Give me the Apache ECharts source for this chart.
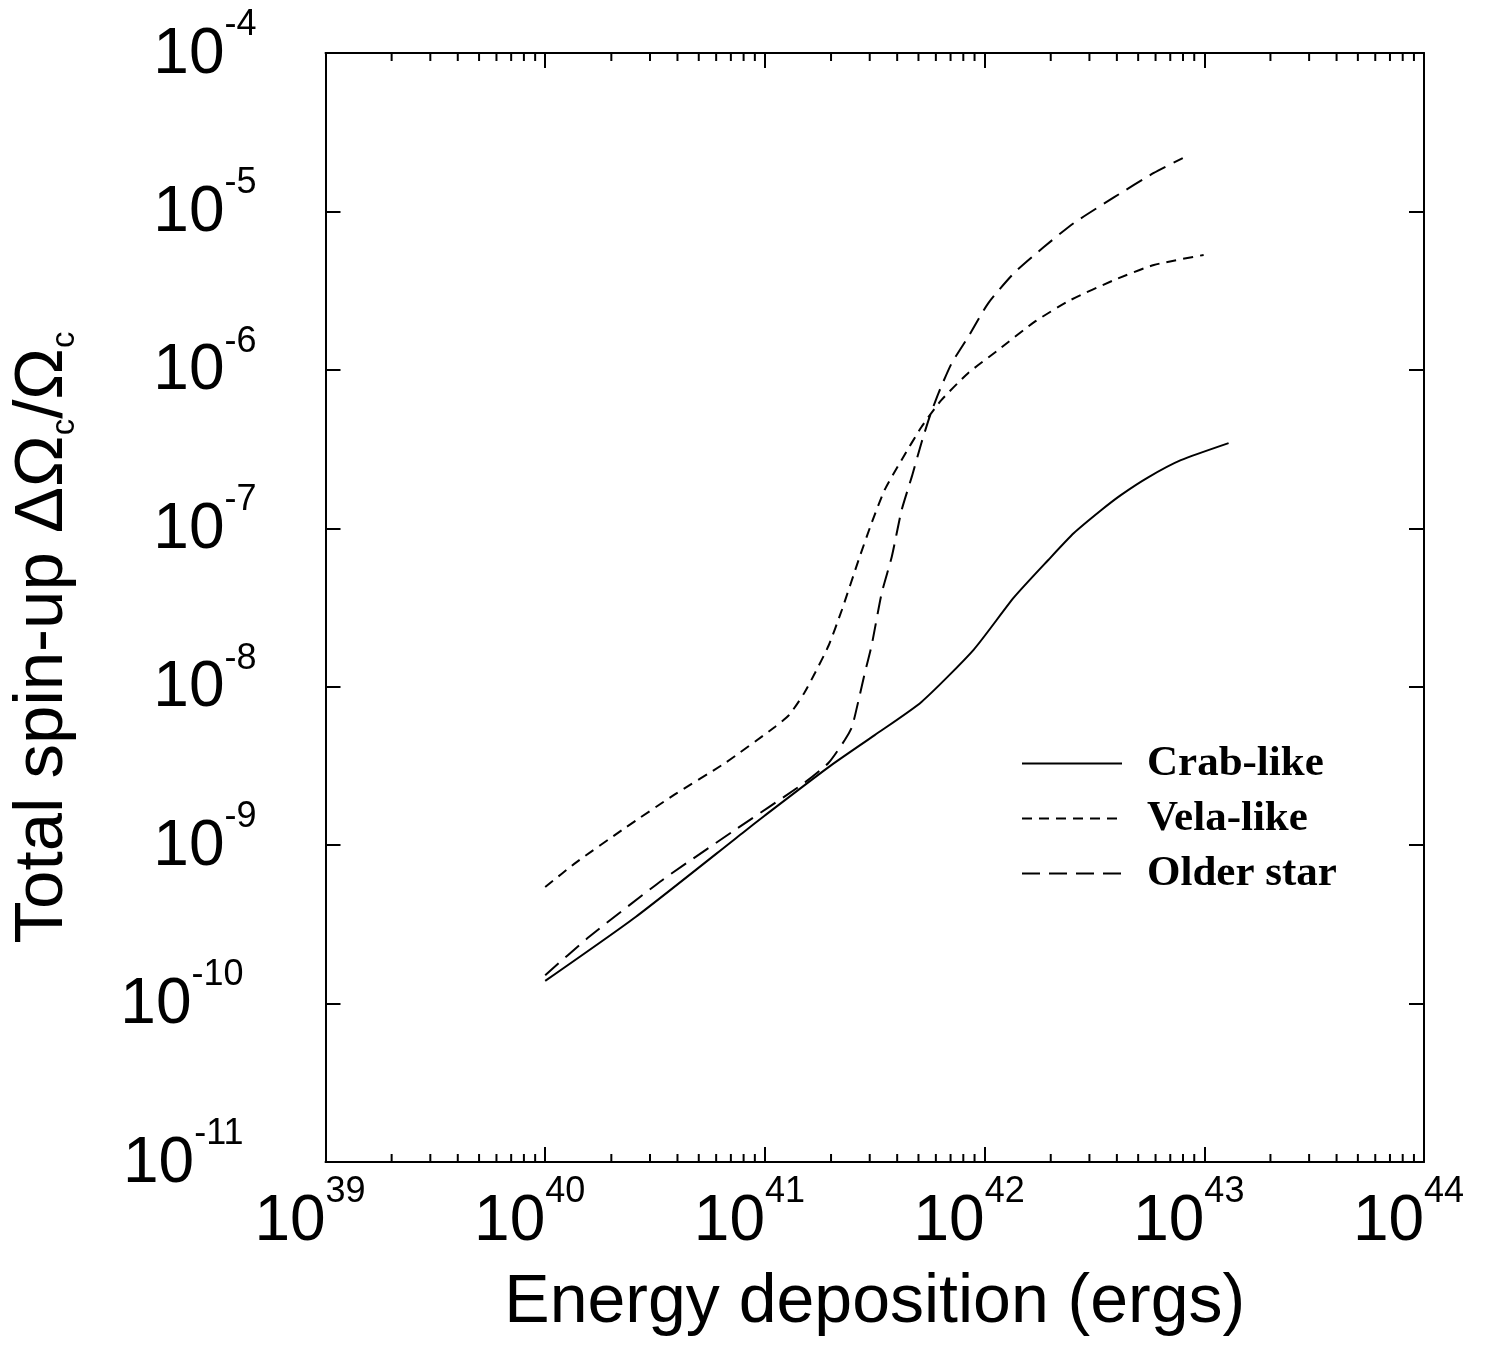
<!DOCTYPE html>
<html>
<head>
<meta charset="utf-8">
<script src="https://cdn.jsdelivr.net/npm/echarts@6/dist/echarts.min.js"></script>
<style>
html,body{margin:0;padding:0;background:#fff;}
#chart{width:1494px;height:1349px;}
</style>
</head>
<body>
<div id="chart"></div>
<script>
// ---- data ----
const seriesNames = ['Crab-like', 'Vela-like', 'Older star'];

const energyCrab = [1.00e40, 2.58e40, 7.89e40, 1.00e41, 1.95e41, 3.16e41, 5.16e41, 8.91e41, 1.36e42, 1.95e42, 2.55e42, 3.39e42, 4.17e42, 5.53e42, 7.82e42, 1.29e43];
const spinCrab   = [1.39e-10, 3.52e-10, 1.19e-9, 1.54e-9, 3.11e-9, 4.95e-9, 8.02e-9, 1.71e-8, 3.66e-8, 6.31e-8, 9.33e-8, 1.30e-7, 1.62e-7, 2.09e-7, 2.69e-7, 3.45e-7];

const energyVela = [1.00e40, 1.38e40, 2.32e40, 3.89e40, 6.61e40, 1.11e41, 1.29e41, 1.51e41, 1.69e41, 1.95e41, 2.24e41, 2.67e41, 3.06e41, 3.51e41, 4.19e41, 5.16e41, 6.37e41, 8.43e41, 1.15e42, 1.68e42, 2.45e42, 3.89e42, 5.89e42, 9.93e42];
const spinVela   = [5.44e-10, 7.76e-10, 1.29e-9, 2.09e-9, 3.31e-9, 5.57e-9, 6.64e-9, 9.12e-9, 1.22e-8, 1.82e-8, 3.05e-8, 6.31e-8, 1.08e-7, 1.75e-7, 2.70e-7, 4.36e-7, 6.46e-7, 9.55e-7, 1.33e-6, 2.00e-6, 2.75e-6, 3.69e-6, 4.59e-6, 5.31e-6];

const energyOlder = [1.00e40, 1.58e40, 3.42e40, 7.08e40, 1.51e41, 1.95e41, 2.31e41, 2.49e41, 2.67e41, 2.85e41, 3.06e41, 3.40e41, 3.78e41, 4.19e41, 4.66e41, 5.16e41, 5.62e41, 6.17e41, 7.08e41, 8.43e41, 1.04e42, 1.36e42, 1.86e42, 2.55e42, 3.89e42, 5.89e42, 7.98e42];
const spinOlder   = [1.51e-10, 2.63e-10, 6.03e-10, 1.21e-9, 2.47e-9, 3.31e-9, 4.61e-9, 5.57e-9, 8.24e-9, 1.22e-8, 1.82e-8, 3.89e-8, 6.61e-8, 1.30e-7, 2.11e-7, 3.47e-7, 5.05e-7, 7.14e-7, 1.10e-6, 1.62e-6, 2.64e-6, 4.08e-6, 5.96e-6, 8.45e-6, 1.23e-5, 1.75e-5, 2.17e-5];

const xMin = 1e39, xMax = 1e44;
const yMin = 1e-11, yMax = 1e-4;
const xMinorTicks = [];
[39, 40, 41, 42, 43].forEach(function (e) {
  [2, 3, 4, 5, 6, 7, 8, 9].forEach(function (m) { xMinorTicks.push(m * Math.pow(10, e)); });
});

// ---- chart ----
const FONT = '"Liberation Sans", Arial, sans-serif';
const SERIF = '"Liberation Serif", "Times New Roman", serif';
const chart = echarts.init(document.getElementById('chart'), null, {renderer: 'canvas'});

function pairs(xs, ys) { return xs.map(function (x, i) { return [x, ys[i]]; }); }
function expOf(v) { return Math.round(Math.log10(v)); }

const axisLineStyle = {color: '#000', width: 2};

const option = {
  backgroundColor: '#fff',
  animation: false,
  grid: {left: 322, top: 53, right: 70, bottom: 187},
  legend: {
    orient: 'vertical',
    left: 1021,
    top: 736,
    padding: 0,
    itemWidth: 100,
    itemHeight: 14,
    itemGap: 0,
    data: seriesNames,
    itemStyle: {color: 'transparent', borderColor: 'transparent', borderWidth: 0},
    textStyle: {fontFamily: SERIF, fontWeight: 'bold', fontSize: 43, color: '#000', lineHeight: 55,
      padding: [0, 0, 0, 20]}
  },
  xAxis: [
    {
      type: 'log', logBase: 10, min: xMin, max: xMax, position: 'bottom',
      axisLine: {show: true, lineStyle: axisLineStyle},
      axisTick: {show: true, inside: true, length: 15, lineStyle: axisLineStyle},
      splitLine: {show: false},
      axisLabel: {
        margin: 12, showMinLabel: true, showMaxLabel: true,
        padding: [0, 31, 0, 0],
        formatter: function (v) { return '{b|10}{s|' + expOf(v) + '}'; },
        rich: {
          b: {fontFamily: FONT, fontSize: 64, lineHeight: 80, color: '#000', verticalAlign: 'bottom'},
          s: {fontFamily: FONT, fontSize: 36, lineHeight: 28, color: '#000', verticalAlign: 'top'}
        }
      },
      name: 'Energy deposition (ergs)',
      nameLocation: 'middle',
      nameGap: 107,
      nameTextStyle: {fontFamily: FONT, fontSize: 68, color: '#000'}
    },
    {
      type: 'log', logBase: 10, min: xMin, max: xMax, position: 'top',
      axisLine: {show: true, lineStyle: axisLineStyle},
      axisTick: {show: true, inside: true, length: 15, lineStyle: axisLineStyle},
      axisLabel: {show: false}, splitLine: {show: false}
    }
  ],
  yAxis: [
    {
      type: 'log', logBase: 10, min: yMin, max: yMax, position: 'left',
      axisLine: {show: true, lineStyle: axisLineStyle},
      axisTick: {show: true, inside: true, length: 15, lineStyle: axisLineStyle},
      splitLine: {show: false},
      axisLabel: {
        margin: 69, showMinLabel: true, showMaxLabel: true,
        padding: [0, 0, 12, 0],
        formatter: function (v) {
          const e = String(expOf(v));
          return '{b|10}{' + (e.length > 2 ? 's2' : 's') + '|' + e + '}';
        },
        rich: {
          b: {fontFamily: FONT, fontSize: 64, lineHeight: 80, color: '#000', verticalAlign: 'bottom'},
          s: {fontFamily: FONT, fontSize: 36, lineHeight: 28, color: '#000', verticalAlign: 'top'},
          s2: {fontFamily: FONT, fontSize: 36, lineHeight: 28, color: '#000', verticalAlign: 'top', padding: [0, 13, 0, 0]}
        }
      },
      name: '{t|Total spin-up ΔΩ}{sub|c}{t|/Ω}{sub|c}',
      nameLocation: 'middle',
      nameGap: 244,
      nameRotate: 90,
      nameTextStyle: {
        color: '#000',
        padding: [0, 60, 0, 0],
        rich: {
          t: {fontFamily: FONT, fontSize: 69, lineHeight: 78, color: '#000', verticalAlign: 'middle'},
          sub: {fontFamily: FONT, fontSize: 33, lineHeight: 20, color: '#000', verticalAlign: 'bottom'}
        }
      }
    },
    {
      type: 'log', logBase: 10, min: yMin, max: yMax, position: 'right',
      axisLine: {show: true, lineStyle: axisLineStyle},
      axisTick: {show: true, inside: true, length: 15, lineStyle: axisLineStyle},
      axisLabel: {show: false}, splitLine: {show: false}
    }
  ],
  series: [
    {
      name: seriesNames[0], type: 'line', xAxisIndex: 0, yAxisIndex: 0,
      data: pairs(energyCrab, spinCrab), symbol: 'none', smooth: 0.2,
      lineStyle: {color: '#000', width: 2, type: 'solid'}, itemStyle: {color: '#000'}
    },
    {
      name: seriesNames[1], type: 'line', xAxisIndex: 0, yAxisIndex: 0,
      data: pairs(energyVela, spinVela), symbol: 'none', smooth: 0.2,
      lineStyle: {color: '#000', width: 2, type: [10, 7]}, itemStyle: {color: '#000'}
    },
    {
      name: seriesNames[2], type: 'line', xAxisIndex: 0, yAxisIndex: 0,
      data: pairs(energyOlder, spinOlder), symbol: 'none', smooth: 0.2,
      lineStyle: {color: '#000', width: 2, type: [18, 9]}, itemStyle: {color: '#000'}
    },
    {
      name: 'minorTicks', type: 'custom', xAxisIndex: 0, yAxisIndex: 0, silent: true, clip: false,
      data: xMinorTicks.map(function (v) { return [v, yMin]; }),
      renderItem: function (params, api) {
        const v = api.value(0);
        const b = api.coord([v, yMin]);
        const t = api.coord([v, yMax]);
        const st = {stroke: '#000', lineWidth: 2};
        return {type: 'group', children: [
          {type: 'line', shape: {x1: b[0], y1: b[1], x2: b[0], y2: b[1] - 8}, style: st},
          {type: 'line', shape: {x1: t[0], y1: t[1], x2: t[0], y2: t[1] + 8}, style: st}
        ]};
      }
    }
  ]
};
chart.setOption(option);
</script>
</body>
</html>
